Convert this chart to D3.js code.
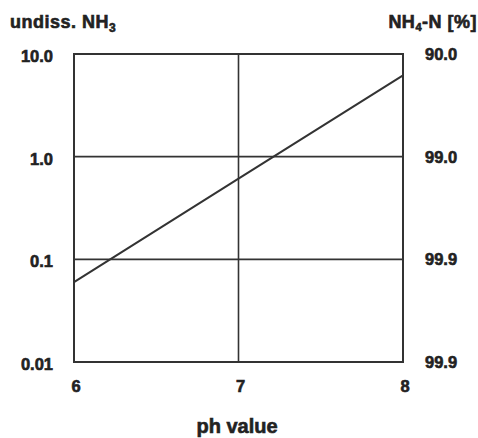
<!DOCTYPE html>
<html>
<head>
<meta charset="utf-8">
<script src="https://cdn.jsdelivr.net/npm/d3@7.9.0/dist/d3.min.js"></script>
<style>
  body { margin: 0; background: #fff; }
  svg text { font-family: "Liberation Sans", Arial, sans-serif; font-weight: bold; fill: #222; stroke: #222; stroke-width: 0.6; }
</style>
</head>
<body>
<svg id="chart" width="478" height="438"></svg>
<script>
// data
const phValues = [6, 7, 8];
const undissNH3 = [0.06, 0.61, 6.2];

const leftTicks = [0.01, 0.1, 1, 10];
const leftLabels = ['0.01', '0.1', '1.0', '10.0'];
const rightLabels = ['99.9', '99.9', '99.0', '90.0'];
const xTicks = [6, 7, 8];

const margin = { top: 54, right: 75, bottom: 76, left: 74 };
const width = 478, height = 438;

const svg = d3.select('#chart');

const x = d3.scaleLinear().domain([6, 8]).range([margin.left, width - margin.right]);
const y = d3.scaleLog().domain([0.01, 10]).range([height - margin.bottom, margin.top]);

// horizontal grid
svg.append('g')
  .selectAll('line')
  .data(leftTicks.slice(1, 3))
  .join('line')
  .attr('x1', x(6)).attr('x2', x(8))
  .attr('y1', d => y(d)).attr('y2', d => y(d))
  .attr('stroke', '#333').attr('stroke-width', 1.6);

// vertical grid at pH 7
svg.append('line')
  .attr('x1', x(7)).attr('x2', x(7))
  .attr('y1', y(10)).attr('y2', y(0.01))
  .attr('stroke', '#333').attr('stroke-width', 1.6);

// frame
svg.append('rect')
  .attr('x', x(6)).attr('y', y(10))
  .attr('width', x(8) - x(6)).attr('height', y(0.01) - y(10))
  .attr('fill', 'none').attr('stroke', '#333').attr('stroke-width', 2);

// line
const line = d3.line().x((d, i) => x(phValues[i])).y(d => y(d));
svg.append('path')
  .datum(undissNH3)
  .attr('d', line)
  .attr('fill', 'none')
  .attr('stroke', '#333')
  .attr('stroke-width', 2);

// left axis labels
svg.append('g')
  .selectAll('text')
  .data(leftTicks)
  .join('text')
  .attr('x', 53)
  .attr('y', d => y(d) + 8)
  .attr('text-anchor', 'end')
  .attr('font-size', 16.5)
  .text((d, i) => leftLabels[i]);

// right axis labels
svg.append('g')
  .selectAll('text')
  .data(leftTicks)
  .join('text')
  .attr('x', 425)
  .attr('y', d => y(d) + 6)
  .attr('text-anchor', 'start')
  .attr('font-size', 16.5)
  .text((d, i) => rightLabels[i]);

// x labels
svg.append('g')
  .selectAll('text')
  .data(xTicks)
  .join('text')
  .attr('x', d => x(d) + 2)
  .attr('y', y(0.01) + 30)
  .attr('text-anchor', 'middle')
  .attr('font-size', 16.5)
  .text(d => d);

// titles
const t1 = svg.append('text').attr('x', 10).attr('y', 28).attr('font-size', 18).attr('letter-spacing', 0.5);
t1.append('tspan').text('undiss. NH');
t1.append('tspan').attr('font-size', 12).attr('dy', 4).text('3');

const t2 = svg.append('text').attr('x', 477).attr('y', 28).attr('font-size', 18).attr('text-anchor', 'end').attr('letter-spacing', 0.5);
t2.append('tspan').text('NH');
t2.append('tspan').attr('font-size', 11).attr('dy', 3).text('4');
t2.append('tspan').attr('dy', -3).text('-N [%]');

svg.append('text')
  .attr('x', 237).attr('y', 433)
  .attr('text-anchor', 'middle')
  .attr('font-size', 20)
  .text('ph value');
</script>
</body>
</html>
